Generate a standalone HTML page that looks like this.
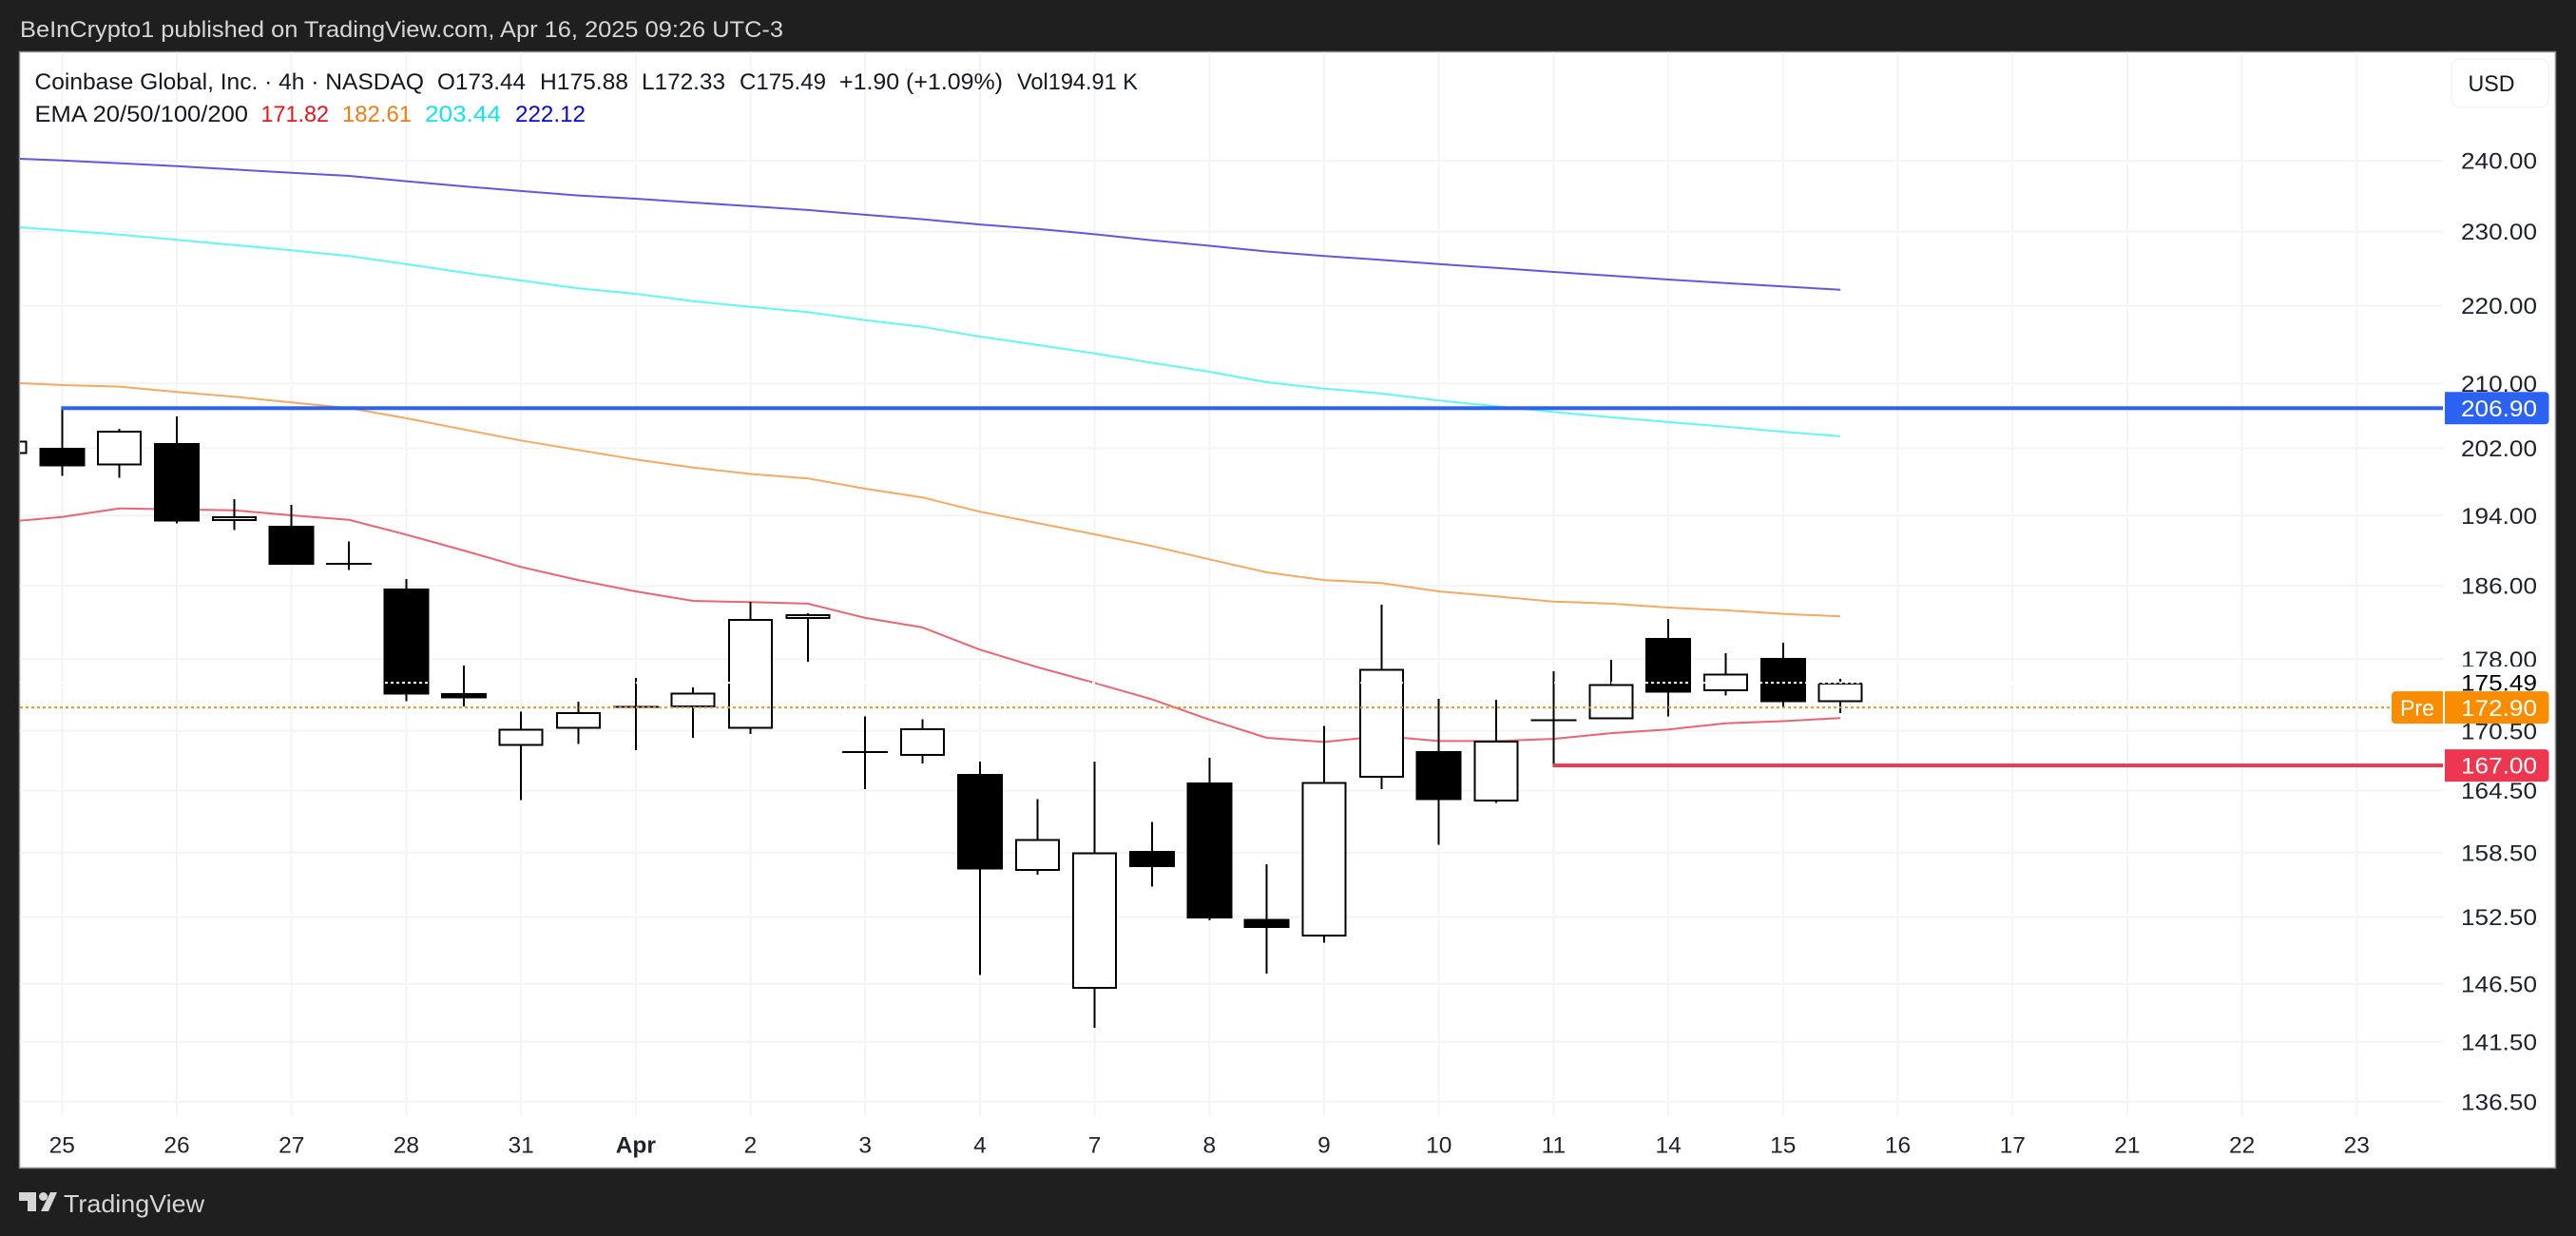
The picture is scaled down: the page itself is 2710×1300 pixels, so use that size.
<!DOCTYPE html>
<html lang="en">
<head>
<meta charset="utf-8">
<title>Coinbase Global 4h chart</title>
<style>
html,body{margin:0;padding:0;background:#1f1f1f;width:2710px;height:1300px;overflow:hidden}
svg{display:block}
text{font-family:"Liberation Sans",sans-serif}
</style>
</head>
<body>
<svg id="chart" xmlns="http://www.w3.org/2000/svg" width="2710" height="1300" viewBox="0 0 2710 1300">
  <defs><clipPath id="plot-clip"><rect x="21" y="55" width="2549" height="1173"/></clipPath></defs>
  <rect x="0" y="0" width="2710" height="1300" fill="#1f1f1f"/>
  <text x="21" y="39" font-size="24" fill="#d6d6d6" textLength="803" lengthAdjust="spacingAndGlyphs">BeInCrypto1 published on TradingView.com, Apr 16, 2025 09:26 UTC-3</text>
  <rect x="20.5" y="54.5" width="2668" height="1174" fill="#ffffff" stroke="#8a8a8a" stroke-width="1.5"/>
  <g id="grid"></g>
  <g id="plot" clip-path="url(#plot-clip)"></g>
  <g id="axis"></g>
  <g id="tags"></g>

  <g font-size="24" fill="#131722">
    <text x="36.5" y="94" textLength="409.5" lengthAdjust="spacingAndGlyphs">Coinbase Global, Inc. · 4h · NASDAQ</text>
    <text x="460" y="94" textLength="93" lengthAdjust="spacingAndGlyphs">O173.44</text>
    <text x="568" y="94" textLength="93" lengthAdjust="spacingAndGlyphs">H175.88</text>
    <text x="675" y="94" textLength="88" lengthAdjust="spacingAndGlyphs">L172.33</text>
    <text x="778" y="94" textLength="91" lengthAdjust="spacingAndGlyphs">C175.49</text>
    <text x="883" y="94" textLength="172" lengthAdjust="spacingAndGlyphs">+1.90 (+1.09%)</text>
    <text x="1070" y="94" textLength="127" lengthAdjust="spacingAndGlyphs">Vol194.91 K</text>
    <text x="36.5" y="128" textLength="224.5" lengthAdjust="spacingAndGlyphs">EMA 20/50/100/200</text>
    <text x="274.5" y="128" fill="#e8141c" textLength="71.5" lengthAdjust="spacingAndGlyphs">171.82</text>
    <text x="360" y="128" fill="#f57c14" textLength="73" lengthAdjust="spacingAndGlyphs">182.61</text>
    <text x="447" y="128" fill="#0ee6ea" textLength="80" lengthAdjust="spacingAndGlyphs">203.44</text>
    <text x="542" y="128" fill="#0808d8" textLength="74" lengthAdjust="spacingAndGlyphs">222.12</text>
  </g>

  <g>
    <rect x="2579" y="62" width="102.5" height="51" rx="9" fill="#ffffff" stroke="#f3f3f3" stroke-width="1.5"/>
    <text x="2596.5" y="96" font-size="24.5" fill="#131722" textLength="49" lengthAdjust="spacingAndGlyphs">USD</text>
  </g>

  <g>
    <path fill="#d6d6d6" d="M20 1254h18v20h-9v-11h-9zM53 1254h7l-9 20h-8z"/>
    <circle cx="45.5" cy="1258.5" r="4.5" fill="#d6d6d6"/>
    <text x="67" y="1275" font-size="26" fill="#d6d6d6" textLength="148" lengthAdjust="spacingAndGlyphs">TradingView</text>
  </g>
</svg>

<script>
// ----- chart data (prices) -----
const priceTicks = [240, 230, 220, 210, 202, 194, 186, 178, 170.5, 164.5, 158.5, 152.5, 146.5, 141.5, 136.5];
const priceTickLabels = ["240.00", "230.00", "220.00", "210.00", "202.00", "194.00", "186.00", "178.00", "170.50", "164.50", "158.50", "152.50", "146.50", "141.50", "136.50"];
const dateLabels = ["25", "26", "27", "28", "31", "Apr", "2", "3", "4", "7", "8", "9", "10", "11", "14", "15", "16", "17", "21", "22", "23"];

const opens = [201.31, 202.04, 199.94, 202.61, 193.34, 192.82, 188.46, 185.69, 174.38, 168.98, 170.69, 172.97, 172.94, 170.72, 182.31, 168.34, 167.96, 166.15, 156.77, 146.07, 158.66, 165.31, 152.31, 150.71, 165.78, 168.44, 163.43, 171.58, 171.68, 180.27, 174.58, 178.12, 173.44];
const highs = [203.20, 206.90, 204.36, 205.88, 195.92, 195.25, 191.02, 186.75, 177.31, 172.46, 173.53, 176.00, 175.01, 184.21, 182.96, 171.97, 171.68, 167.38, 163.64, 167.38, 161.45, 167.77, 157.40, 171.01, 183.90, 173.82, 173.72, 176.70, 177.92, 182.34, 178.63, 179.75, 175.88];
const lows = [200.80, 198.65, 198.42, 193.08, 192.31, 188.38, 187.74, 173.56, 173.04, 163.57, 169.14, 168.56, 169.79, 170.17, 177.74, 164.66, 167.22, 147.27, 156.42, 142.68, 155.30, 152.19, 147.41, 150.15, 164.66, 159.23, 163.27, 167.00, 171.68, 171.97, 174.15, 172.85, 172.33];
const closes = [202.89, 199.79, 204.10, 193.30, 193.89, 188.38, 188.40, 174.25, 173.85, 170.69, 172.43, 172.97, 174.44, 182.31, 182.83, 168.34, 170.75, 156.89, 159.78, 158.51, 157.13, 152.34, 151.50, 165.37, 176.94, 163.57, 169.52, 171.58, 175.37, 174.44, 176.43, 173.46, 175.49];

const ema20 = [193.25, 193.84, 194.83, 194.72, 194.61, 194.02, 193.50, 191.79, 189.97, 188.11, 186.64, 185.37, 184.32, 184.18, 184.01, 182.45, 181.41, 179.01, 177.14, 175.47, 173.75, 171.65, 169.79, 169.37, 169.98, 169.46, 169.46, 169.69, 170.27, 170.65, 171.27, 171.49, 171.82];
const ema50 = [210.11, 209.79, 209.59, 208.92, 208.33, 207.62, 206.91, 205.65, 204.28, 202.93, 201.77, 200.63, 199.67, 198.90, 198.36, 197.15, 196.11, 194.44, 193.13, 191.82, 190.48, 188.97, 187.50, 186.64, 186.29, 185.37, 184.82, 184.25, 184.01, 183.59, 183.28, 182.90, 182.61];
const ema100 = [230.74, 230.18, 229.60, 228.87, 228.17, 227.44, 226.66, 225.57, 224.42, 223.37, 222.31, 221.59, 220.62, 219.87, 219.17, 218.12, 217.23, 215.97, 214.90, 213.81, 212.60, 211.47, 210.15, 209.35, 208.72, 207.85, 207.14, 206.43, 205.77, 205.18, 204.61, 203.99, 203.44];
const ema200 = [240.37, 240.04, 239.63, 239.22, 238.73, 238.27, 237.82, 237.06, 236.34, 235.67, 235.04, 234.59, 234.06, 233.53, 233.00, 232.34, 231.72, 230.99, 230.39, 229.64, 228.82, 228.06, 227.28, 226.67, 226.13, 225.56, 225.05, 224.51, 224.00, 223.49, 223.02, 222.57, 222.12];

const resistanceLevel = 206.90;
const supportLevel = 167.00;
const prePrice = 172.90;
const lastClose = 175.49;
const firstBarOffset = -1;
const resistanceStartBar = 0;
const supportStartBar = 26;

// ----- axis functions -----
const NS = "http://www.w3.org/2000/svg";
function yScale(price) { return 169 + 1754 * Math.log(240 / price); }
function xScale(barIndex) { return 65.3 + 60.35 * barIndex; }
function make(tag, attrs, parent) {
  const el = document.createElementNS(NS, tag);
  for (const k in attrs) el.setAttribute(k, attrs[k]);
  parent.appendChild(el);
  return el;
}
const grid = document.getElementById("grid");
const plot = document.getElementById("plot");
const axis = document.getElementById("axis");
const tags = document.getElementById("tags");
const PLOT_RIGHT = 2570;

// ----- grid and tick labels -----
priceTicks.forEach(function (p, i) {
  const y = yScale(p);
  const line = make("rect", { x: 21, y: y - 1, width: PLOT_RIGHT - 21, height: 2, fill: "#f4f4f4" }, grid);
  
  
  const label = make("text", { x: 2589, y: y + 8.6, "font-size": 24.5, fill: "#1e222d", textLength: 80, lengthAdjust: "spacingAndGlyphs" }, axis);
  
  
  label.textContent = priceTickLabels[i];
});
dateLabels.forEach(function (d, i) {
  const x = xScale(i * 2);
  const line = make("rect", { x: x - 1, y: 55, width: 2, height: 1119, fill: "#f4f4f4" }, grid);
  
  
  const label = make("text", { x: x, y: 1212.5, "font-size": 24.5, fill: "#1e222d", "text-anchor": "middle", "font-weight": d === "Apr" ? "bold" : "normal" }, axis);
  
  
  label.textContent = d;
});

// ----- EMA lines (under the candles) -----
function drawEma(values, colour, name) {
  const pts = values.map(function (v, i) {
    return xScale(i + firstBarOffset).toFixed(1) + "," + yScale(v).toFixed(1);
  }).join(" ");
  const line = make("polyline", { points: pts, fill: "none", stroke: colour, "stroke-width": 2, "stroke-linejoin": "round" }, plot);
  
  
}
drawEma(ema200, "#6158e0", "ema200-line");
drawEma(ema100, "#62f6f6", "ema100-line");
drawEma(ema50, "#f6a95f", "ema50-line");
drawEma(ema20, "#ec6470", "ema20-line");

// ----- candles -----
opens.forEach(function (o, i) {
  const c = closes[i];
  const x = xScale(i + firstBarOffset);
  const top = yScale(Math.max(o, c));
  const bottom = yScale(Math.min(o, c));
  const g = make("g", { "shape-rendering": "crispEdges" }, plot);
  
  
  make("rect", { x: x - 1, y: yScale(highs[i]), width: 2, height: yScale(lows[i]) - yScale(highs[i]), fill: "#000000" }, g);
  const h = bottom - top;
  if (h < 3) {
    make("rect", { x: x - 24, y: top - 1, width: 48, height: 2, fill: "#000000" }, g);
  } else if (c >= o) {
    make("rect", { x: x - 22.5, y: top + 1, width: 45, height: h - 2, fill: "#ffffff", stroke: "#000000", "stroke-width": 2 }, g);
  } else {
    make("rect", { x: x - 24, y: top, width: 48, height: h, fill: "#000000" }, g);
  }
});

// ----- dotted price lines and levels -----
const closeLine = make("line", { x1: 21, x2: PLOT_RIGHT, y1: yScale(lastClose), y2: yScale(lastClose), stroke: "#ffffff", "stroke-width": 2, "stroke-dasharray": "3 3" }, plot);


const resistanceLine = make("rect", { x: xScale(resistanceStartBar) - 1, y: yScale(resistanceLevel) - 2, width: PLOT_RIGHT - xScale(resistanceStartBar) + 1, height: 4, fill: "#2b62f2" }, plot);


const supportLine = make("rect", { x: xScale(supportStartBar) - 1, y: yScale(supportLevel) - 2, width: PLOT_RIGHT - xScale(supportStartBar) + 1, height: 4, fill: "#e63b50" }, plot);


const preLine = make("line", { x1: 21, x2: 2514, y1: yScale(prePrice), y2: yScale(prePrice), stroke: "#f0951f", "stroke-width": 2, "stroke-dasharray": "3 3" }, plot);



// ----- price tags on the axis -----
function drawTag(price, fill, textColour, name) {
  const y = yScale(price);
  const box = make("path", { d: "M2572 " + (y - 17) + "h105.5a4 4 0 0 1 4 4v26a4 4 0 0 1 -4 4h-105.5z", fill: fill }, tags);
  
  
  const label = make("text", { x: 2589, y: y + 8.6, "font-size": 24.5, fill: textColour, textLength: 80, lengthAdjust: "spacingAndGlyphs" }, tags);
  
  
  label.textContent = price.toFixed(2);
}
drawTag(lastClose, "#ffffff", "#000000", "last-close-tag");
drawTag(resistanceLevel, "#2b62f2", "#ffffff", "resistance-tag");
drawTag(prePrice, "#f98c00", "#ffffff", "pre-price-tag");
drawTag(supportLevel, "#ed3750", "#ffffff", "support-tag");

const preY = yScale(prePrice);
const preBox = make("path", { d: "M2570 " + (preY - 17) + "h-50a4 4 0 0 0 -4 4v26a4 4 0 0 0 4 4h50z", fill: "#f98c00" }, tags);


const preText = make("text", { x: 2525, y: preY + 8.6, "font-size": 24.5, fill: "#ffffff", textLength: 36, lengthAdjust: "spacingAndGlyphs" }, tags);


preText.textContent = "Pre";
</script>
</body>
</html>
